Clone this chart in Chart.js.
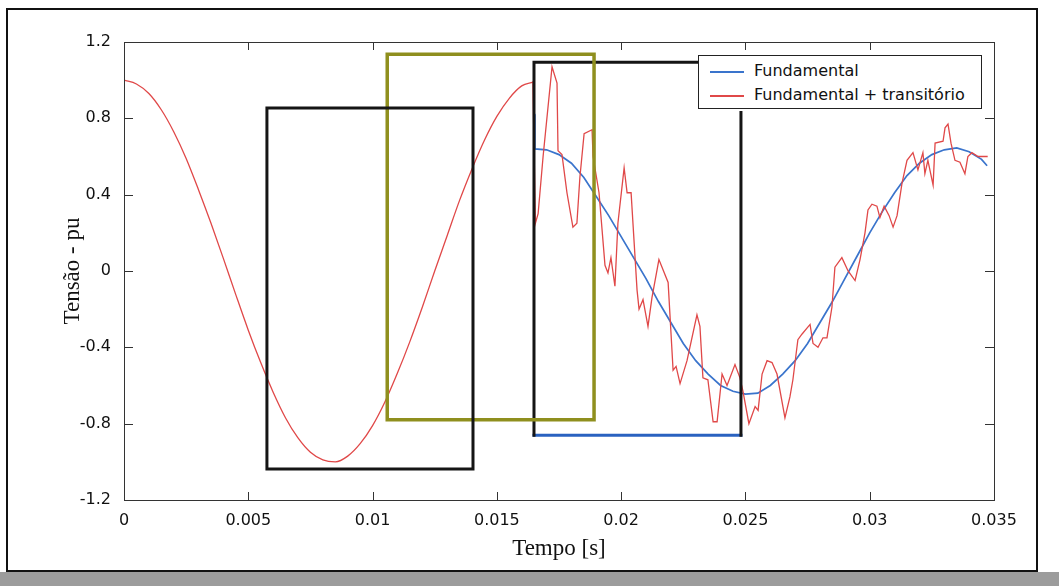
<!DOCTYPE html>
<html lang="pt">
<head>
<meta charset="UTF-8">
<title>Tensão - fundamental e transitório</title>
<script src="https://cdn.jsdelivr.net/npm/chart.js"></script>
<style>
  * { margin: 0; padding: 0; box-sizing: border-box; }
  body { width: 1059px; height: 586px; background: #fff; position: relative; overflow: hidden; }
  .moldura { position: absolute; left: 6px; top: 8px; width: 1032px; height: 564px; border: 2px solid #111; background: #fff; }
  .sombra { position: absolute; left: 0; top: 572px; width: 1059px; height: 14px; background: #9c9c9c; }
  canvas { position: absolute; left: 0; top: 0; }
  .legenda { position: absolute; left: 698px; top: 55px; width: 284px; height: 54px; border: 1.5px solid #222; background: #fff;
             font-family: "DejaVu Sans", sans-serif; font-size: 16px; color: #111; }
  .legenda div { position: absolute; left: 11px; height: 20px; line-height: 20px; white-space: nowrap; }
  .legenda i { display: inline-block; width: 34px; height: 2px; vertical-align: middle; margin-right: 10px; }
</style>
</head>
<body>
<div class="moldura"></div>
<div class="sombra"></div>
<canvas id="grafico" width="1059" height="586"></canvas>
<div class="legenda">
  <div style="top:5px"><i style="background:#3a74cc"></i>Fundamental</div>
  <div style="top:29px"><i style="background:#e04848"></i>Fundamental + transitório</div>
</div>
<script>
// primeiro ciclo (antes do transitório)
const tempoCiclo = [0, 0.0005, 0.001, 0.0015, 0.002, 0.0025, 0.003, 0.0035, 0.004, 0.0045, 0.005, 0.0055,
  0.006, 0.0065, 0.007, 0.0075, 0.008, 0.0085, 0.009, 0.0095, 0.01, 0.0105, 0.011, 0.0115, 0.012, 0.0125,
  0.013, 0.0135, 0.014, 0.0145, 0.015, 0.0155, 0.016, 0.01645];
const tensaoCiclo = [1.0, 0.98, 0.93, 0.845, 0.73, 0.59, 0.425, 0.25, 0.065, -0.125, -0.31, -0.48,
  -0.635, -0.77, -0.875, -0.95, -0.99, -1.0, -0.97, -0.905, -0.81, -0.685, -0.535, -0.37, -0.19, 0.0,
  0.185, 0.37, 0.535, 0.685, 0.81, 0.905, 0.97, 0.99];

// fundamental + transitório
const tempoTransitorio = [0.01645, 0.01655, 0.01666, 0.01686, 0.01722, 0.01742, 0.01746, 0.01762, 0.01782, 0.01806,
  0.01822, 0.01834, 0.01851, 0.01883, 0.01887, 0.01911, 0.01935, 0.01947, 0.01959, 0.01975,
  0.01987, 0.02012, 0.02024, 0.02040, 0.02064, 0.02072, 0.02088, 0.02108, 0.02124, 0.02152,
  0.02189, 0.02209, 0.02221, 0.02237, 0.02265, 0.02305, 0.02317, 0.02329, 0.02349, 0.02370,
  0.02386, 0.02406, 0.02426, 0.02458, 0.02478, 0.02490, 0.02514, 0.02539, 0.02551, 0.02567,
  0.02587, 0.02607, 0.02627, 0.02659, 0.02679, 0.02691, 0.02711, 0.02728, 0.02760, 0.02772,
  0.02792, 0.02812, 0.02828, 0.02848, 0.02860, 0.02888, 0.02913, 0.02941, 0.02961, 0.02981,
  0.02993, 0.03009, 0.03029, 0.03041, 0.03058, 0.03078, 0.03094, 0.03110, 0.03130, 0.03150,
  0.03174, 0.03194, 0.03214, 0.03222, 0.03234, 0.03255, 0.03263, 0.03295, 0.03303, 0.03315,
  0.03327, 0.03343, 0.03363, 0.03383, 0.03395, 0.03411, 0.03436, 0.03452, 0.03472];
const tensaoTransitoria = [0.99, 0.25, 0.30, 0.60, 1.07, 0.985, 0.63, 0.61, 0.41, 0.23,
  0.25, 0.49, 0.72, 0.74, 0.60, 0.41, 0.03, -0.01, 0.07, -0.08,
  0.25, 0.54, 0.41, 0.41, -0.10, -0.20, -0.15, -0.29, -0.14, 0.06,
  -0.06, -0.52, -0.50, -0.59, -0.47, -0.23, -0.29, -0.56, -0.57, -0.79,
  -0.79, -0.54, -0.60, -0.49, -0.56, -0.63, -0.80, -0.71, -0.73, -0.54,
  -0.47, -0.48, -0.54, -0.77, -0.66, -0.57, -0.36, -0.33, -0.28, -0.38,
  -0.40, -0.35, -0.35, -0.19, 0.02, 0.07, 0.00, -0.05, 0.06, 0.20,
  0.32, 0.35, 0.34, 0.28, 0.34, 0.29, 0.23, 0.29, 0.46, 0.58,
  0.62, 0.53, 0.62, 0.51, 0.58, 0.45, 0.67, 0.68, 0.75, 0.77,
  0.67, 0.58, 0.57, 0.51, 0.60, 0.62, 0.60, 0.60, 0.60];

// fundamental
const tempoFundamental = [0.01652, 0.01653, 0.017, 0.0175, 0.018, 0.0185, 0.019, 0.0195, 0.02, 0.0205,
  0.021, 0.0215, 0.022, 0.0225, 0.023, 0.0235, 0.024, 0.0245, 0.025, 0.0255, 0.026, 0.0265, 0.027,
  0.0275, 0.028, 0.0285, 0.029, 0.0295, 0.03, 0.0305, 0.031, 0.0315, 0.032, 0.0325, 0.033, 0.0335,
  0.034, 0.0345, 0.0347];
const tensaoFundamental = [0.82, 0.64, 0.635, 0.61, 0.565, 0.49, 0.39, 0.29, 0.18, 0.07,
  -0.04, -0.16, -0.27, -0.38, -0.47, -0.54, -0.60, -0.63, -0.645, -0.64, -0.60, -0.54, -0.47,
  -0.38, -0.27, -0.16, -0.04, 0.08, 0.20, 0.31, 0.41, 0.50, 0.565, 0.61, 0.635, 0.645,
  0.625, 0.585, 0.555];

// retângulos de destaque, em unidades dos eixos: [t0, t1, v0, v1]
const caixaPreta1 = [0.00575, 0.01404, -1.038, 0.854];
const caixaAmarela = [0.01059, 0.01891, -0.779, 1.136];
const caixaPreta2 = [0.016494, 0.02482, -0.861, 1.094];
const topoBordaDireita = 0.83;
const fimBordaSuperior = 0.0231;

const marcasX = [0, 0.005, 0.01, 0.015, 0.02, 0.025, 0.03, 0.035];
const marcasY = [-1.2, -0.8, -0.4, 0, 0.4, 0.8, 1.2];

const pontos = (xs, ys) => xs.map((x, i) => ({ x: x, y: ys[i] }));
const retangulo = c => [{x: c[0], y: c[2]}, {x: c[0], y: c[3]}, {x: c[1], y: c[3]}, {x: c[1], y: c[2]}, {x: c[0], y: c[2]}];

const linha = (data, cor, largura, ordem, curva) => ({
  data: data, borderColor: cor, borderWidth: largura, showLine: true, pointRadius: 0,
  tension: curva || 0, cubicInterpolationMode: curva ? 'monotone' : 'default',
  fill: false, order: ordem, borderJoinStyle: 'miter', borderCapStyle: 'square'
});

// marcas internas e moldura do eixo (estilo MATLAB)
const eixoCaixa = {
  id: 'eixoCaixa',
  afterDraw(chart) {
    const { ctx, chartArea: a, scales: { x, y } } = chart;
    ctx.save();
    ctx.strokeStyle = '#333';
    ctx.lineWidth = 1;
    ctx.beginPath();
    marcasX.forEach(v => {
      const px = Math.round(x.getPixelForValue(v)) + 0.5;
      ctx.moveTo(px, a.bottom); ctx.lineTo(px, a.bottom - 8);
      ctx.moveTo(px, a.top); ctx.lineTo(px, a.top + 8);
    });
    marcasY.forEach(v => {
      const py = Math.round(y.getPixelForValue(v)) + 0.5;
      ctx.moveTo(a.left, py); ctx.lineTo(a.left + 9, py);
      ctx.moveTo(a.right, py); ctx.lineTo(a.right - 9, py);
    });
    ctx.stroke();
    ctx.strokeRect(Math.round(a.left) + 0.5, Math.round(a.top) + 0.5, Math.round(a.width), Math.round(a.height));
    ctx.restore();
  }
};

new Chart(document.getElementById('grafico'), {
  type: 'scatter',
  data: {
    datasets: [
      linha(retangulo(caixaPreta1), '#151515', 3, 0),
      linha(retangulo(caixaAmarela), '#8f8f1e', 3.5, 0),
      linha([{x: caixaPreta2[0], y: caixaPreta2[2]}, {x: caixaPreta2[0], y: caixaPreta2[3]}, {x: fimBordaSuperior, y: caixaPreta2[3]}], '#151515', 3, 0),
      linha([{x: caixaPreta2[1], y: topoBordaDireita}, {x: caixaPreta2[1], y: caixaPreta2[2]}], '#151515', 3, 0),
      linha([{x: caixaPreta2[0], y: caixaPreta2[2]}, {x: caixaPreta2[1], y: caixaPreta2[2]}], '#2a62c0', 3, 0),
      linha(pontos(tempoCiclo, tensaoCiclo), '#e04848', 1.3, 1, 0.4),
      linha(pontos(tempoTransitorio, tensaoTransitoria), '#e04848', 1.3, 1),
      linha(pontos(tempoFundamental, tensaoFundamental), '#3a74cc', 1.7, 2)
    ]
  },
  options: {
    responsive: false,
    animation: false,
    devicePixelRatio: 1,
    layout: { padding: { left: 59, top: 42, right: 65, bottom: 23 } },
    plugins: { legend: { display: false }, tooltip: { enabled: false } },
    scales: {
      x: {
        type: 'linear', min: 0, max: 0.035,
        afterBuildTicks: s => { s.ticks = marcasX.map(v => ({ value: v })); },
        afterFit: s => { s.height = 63; },
        grid: { display: false, drawTicks: false },
        border: { display: false },
        ticks: { padding: 11, color: '#111', font: { family: 'DejaVu Sans', size: 16 },
                 callback: v => String(Number(v.toFixed(3))) },
        title: { display: true, text: 'Tempo [s]', color: '#111', padding: 0,
                 font: { family: 'Liberation Serif', size: 23 } }
      },
      y: {
        type: 'linear', min: -1.2, max: 1.2,
        afterBuildTicks: s => { s.ticks = marcasY.map(v => ({ value: v })); },
        afterFit: s => { s.width = 65; },
        grid: { display: false, drawTicks: false },
        border: { display: false },
        ticks: { padding: 13, color: '#111', font: { family: 'DejaVu Sans', size: 16 },
                 callback: v => String(Number(v.toFixed(1))) },
        title: { display: true, text: 'Tensão - pu', color: '#111', padding: 0,
                 font: { family: 'Liberation Serif', size: 23 } }
      }
    }
  },
  plugins: [eixoCaixa]
});
</script>
</body>
</html>
